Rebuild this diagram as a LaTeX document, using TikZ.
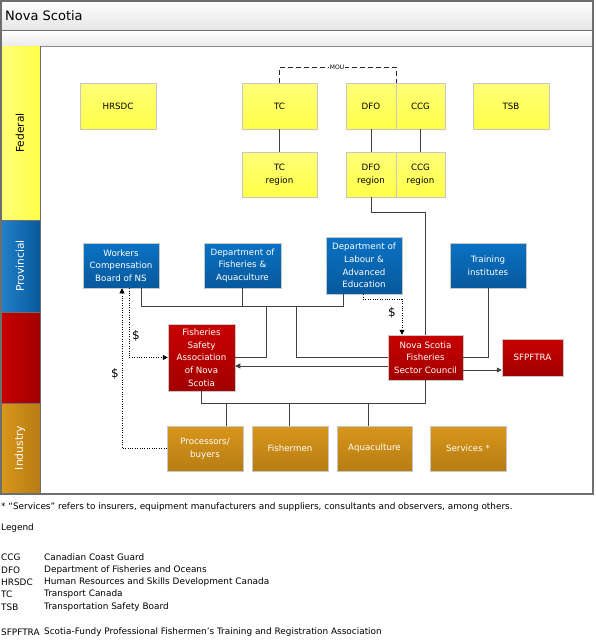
\documentclass[tikz,border=0pt]{standalone}
\usepackage{fontspec}
\setmainfont{DejaVu Sans}
\usetikzlibrary{arrows.meta,shadows,calc}
\definecolor{yTop}{HTML}{FFFF78}
\definecolor{yBot}{HTML}{FFFF48}
\definecolor{bTop}{HTML}{0A72C4}
\definecolor{bBot}{HTML}{07599C}
\definecolor{rTop}{HTML}{C80000}
\definecolor{rBot}{HTML}{A20000}
\definecolor{oTop}{HTML}{D8961A}
\definecolor{oBot}{HTML}{B77D14}
\definecolor{frameC}{HTML}{6E6E6E}
\definecolor{connC}{HTML}{404040}
\begin{document}
\begin{tikzpicture}[x=1pt,y=-1pt,
  box/.style={draw=black!22, line width=0.5pt, align=center, inner sep=1pt,
    font=\fontsize{8.7}{12.7}\selectfont,
    drop shadow={shadow xshift=1.3pt,shadow yshift=-1.3pt,fill=black,opacity=0.16}},
  fedbox/.style={box, top color=yTop, bottom color=yBot, text=black},
  provbox/.style={box, top color=bTop, bottom color=bBot, text=white},
  redbox/.style={box, top color=rTop, bottom color=rBot, text=white},
  indbox/.style={box, top color=oTop, bottom color=oBot, text=white},
  wh/.style 2 args={minimum width=#1pt, minimum height=#2pt},
  conn/.style={draw=connC, line width=0.8pt},
  dotc/.style={draw=black, line width=0.8pt, dash pattern=on 0.8pt off 1.6pt},
  dashc/.style={draw=black!85, line width=0.8pt, dash pattern=on 5pt off 3pt},
  arr/.style={-{Triangle[length=5pt,width=5pt]}},
  lanelbl/.style={rotate=90, font=\fontsize{10.7}{12}\selectfont},
  dollar/.style={font=\fontsize{12}{13}\selectfont, inner sep=0pt},
  leg/.style={anchor=west, inner sep=0pt, font=\fontsize{8.9}{11}\selectfont}
]
\useasboundingbox (0,0) rectangle (595,640);

% ---------- frame, title bars, lanes ----------
\shade[top color=white, bottom color=black!10] (1,1) rectangle (593,30);
\shade[top color=white, bottom color=black!8] (1,31) rectangle (593,46);
\draw[frameC, line width=1pt] (1,30.5) -- (593,30.5);
\draw[frameC!80, line width=1pt] (1,46) -- (593,46);
\node[anchor=west, inner sep=0pt, font=\fontsize{13}{15}\selectfont] (title) at (5,16) {Nova Scotia};

\shade[left color=yTop, right color=yBot] (1,46) rectangle (40,220);
\shade[left color=bTop!90!white, right color=bBot] (1,220) rectangle (40,312);
\shade[left color=rTop, right color=rBot] (1,312) rectangle (40,403);
\shade[left color=oTop, right color=oBot] (1,403) rectangle (40,494);
\draw[frameC, line width=0.8pt] (1,220) -- (40,220) (1,312) -- (40,312) (1,403) -- (40,403);
\draw[frameC, line width=1pt] (40,46) -- (40,494);
\node[lanelbl, text=black] (lfed) at (20,133) {Federal};
\node[lanelbl, text=white] (lprov) at (20,266) {Provincial};
\node[lanelbl, text=white] (lind) at (20,448) {Industry};
\draw[frameC, line width=1.4pt] (1,1) rectangle (593,494);

% ---------- federal ----------
\node[fedbox, wh={76}{46}] (hrsdc) at (118,106) {HRSDC};
\node[fedbox, wh={75}{46}] (tc) at (279.5,106) {TC};
\node[fedbox, wh={50}{46}] (dfo) at (371,106) {DFO};
\node[fedbox, wh={49}{46}] (ccg) at (420.5,106) {CCG};
\node[fedbox, wh={76}{46}] (tsb) at (511,106) {TSB};
\node[fedbox, wh={75}{45}] (tcr) at (279.5,174.5) {TC\\region};
\node[fedbox, wh={50}{45}] (dfor) at (371,174.5) {DFO\\region};
\node[fedbox, wh={49}{45}] (ccgr) at (420.5,174.5) {CCG\\region};

% ---------- provincial ----------
\node[provbox, wh={76}{45}] (wcb) at (121,265.5) {Workers\\Compensation\\Board of NS};
\node[provbox, wh={77}{45}] (dfa) at (242.5,265.5) {Department of\\Fisheries \&\\Aquaculture};
\node[provbox, wh={76}{57}] (dlae) at (364,265.5) {Department of\\Labour \&\\Advanced\\Education};
\node[provbox, wh={76}{45}] (ti) at (488,265.5) {Training\\institutes};

% ---------- red lane ----------
\node[redbox, wh={67}{67}] (fsans) at (201.5,357.5) {Fisheries\\Safety\\Association\\of Nova\\Scotia};
\node[redbox, wh={75}{45}] (nsfsc) at (425.5,357.5) {Nova Scotia\\Fisheries\\Sector Council};
\node[redbox, wh={61}{37}] (sfpftra) at (532.5,357.5) {SFPFTRA};

% ---------- industry ----------
\node[indbox, wh={76}{45}] (proc) at (205,448.5) {Processors/\\buyers};
\node[indbox, wh={76}{45}] (fish) at (290,448.5) {Fishermen};
\node[indbox, wh={75}{45}] (aqua) at (374.5,448.5) {Aquaculture};
\node[indbox, wh={76}{45}] (serv) at (468,448.5) {Services *};

% ---------- federal connectors ----------
\coordinate (mou) at (337,67);
\draw[dashc] (tc.north) |- (mou) -| (dfo.north east);
\node[fill=white, inner sep=0.6pt, font=\fontsize{6}{6}\selectfont] (moulbl) at (mou) {MOU};
\draw[conn] (tc.south) -- (tcr.north);
\draw[conn] (dfo.south) -- (dfor.north);
\draw[conn] (ccg.south) -- (ccgr.north);
\coordinate (d1) at (425.5,212);
\draw[conn] (dfor.south) |- (d1) -- (nsfsc.north);

% ---------- provincial connectors ----------
\coordinate (pw) at (141,306);
\coordinate (pe) at (343,306);
\coordinate (pa) at (266,306);
\coordinate (pb) at (296,306);
\draw[conn] (pw |- wcb.south) -- (pw) -- (pe) -- (pe |- dlae.south);
\draw[conn] (dfa.south) -- (dfa.south |- pw);
\draw[conn] (pa) |- (fsans.east);
\draw[conn] (pb) |- (nsfsc.west);
\draw[conn] (ti.south) |- (nsfsc.east);
\draw[conn, arr] ($(nsfsc.west)+(0,8.5)$) -- ($(fsans.east)+(0,8.5)$);
\draw[conn, arr] ($(nsfsc.east)+(0,12.5)$) -- ($(sfpftra.west)+(0,12.5)$);

% ---------- industry bus ----------
\coordinate (bus) at (425.5,403);
\draw[conn] (nsfsc.south) -- (bus) -| (fsans.south);
\coordinate (b1) at (226,403);
\coordinate (b2) at (289,403);
\coordinate (b3) at (368,403);
\draw[conn] (b1) -- (b1 |- proc.north);
\draw[conn] (b2) -- (b2 |- fish.north);
\draw[conn] (b3) -- (b3 |- aqua.north);

% ---------- dotted money flows ----------
\coordinate (q1) at (363,299);
\coordinate (q2) at (402,299);
\draw[dotc, arr] (q1 |- dlae.south) -- (q1) -- (q2) -- (q2 |- nsfsc.north);
\node[dollar] (dl1) at (392,313) {\$};
\coordinate (w1) at (129,357.5);
\draw[dotc, arr] (w1 |- wcb.south) -- (w1) -- (fsans.west);
\node[dollar] (dl2) at (136,336) {\$};
\coordinate (w2) at (122,448.5);
\draw[dotc, arr] (proc.west) -- (w2) -- (w2 |- wcb.south);
\node[dollar] (dl3) at (115,374) {\$};

% ---------- notes & legend ----------
\node[leg] (note) at (1,507) {* “Services” refers to insurers, equipment manufacturers and suppliers, consultants and observers, among others.};
\node[leg] (legh) at (1,528) {Legend};
\node[leg] (k1) at (1,557) {CCG};   \node[leg] (v1) at (44,557) {Canadian Coast Guard};
\node[leg] (k2) at (1,570) {DFO};   \node[leg] (v2) at (44,570) {Department of Fisheries and Oceans};
\node[leg] (k3) at (1,582) {HRSDC}; \node[leg] (v3) at (44,582) {Human Resources and Skills Development Canada};
\node[leg] (k4) at (1,594) {TC};    \node[leg] (v4) at (44,594) {Transport Canada};
\node[leg] (k5) at (1,607) {TSB};   \node[leg] (v5) at (44,607) {Transportation Safety Board};
\node[leg] (k6) at (1,632) {SFPFTRA}; \node[leg] (v6) at (44,632) {Scotia-Fundy Professional Fishermen’s Training and Registration Association};
\end{tikzpicture}
\end{document}
